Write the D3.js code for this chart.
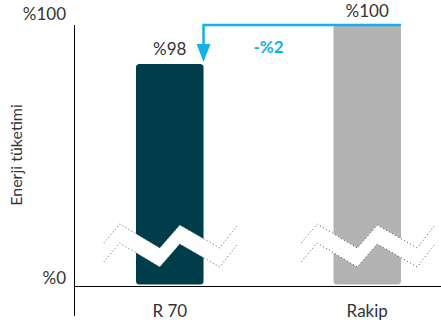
<!DOCTYPE html>
<html><head><meta charset="utf-8">
<script src="https://cdn.jsdelivr.net/npm/d3@7"></script>
<style>
html,body{margin:0;padding:0;background:#fff;}
svg{display:block;font-family:Lato,"Open Sans",sans-serif;}
</style></head>
<body>
<svg id="chart" width="441" height="325"></svg>
<script>
const categories = ["R 70", "Rakip"];
const values = [98, 100];
const valueLabels = ["%98", "%100"];
const tickValues = [0, 100];
const tickLabels = ["%0", "%100"];
const diffLabel = "-%2";
const yTitle = "Enerji tüketimi";
const barColors = ["#003d4b", "#b3b3b3"];
const accent = "#12b1e8";

const W = 441, H = 325;
const svg = d3.select("#chart");

const x = d3.scaleBand().domain(categories).range([74, 463]).paddingInner(0.658).paddingOuter(0.314);
// broken axis: piecewise linear scale
const y = d3.scaleLinear().domain([0, 96, 100]).range([286, 103, 25]);

// bars
svg.selectAll("rect.bar").data(categories).enter().append("rect")
  .attr("class","bar")
  .attr("x", d => x(d))
  .attr("y", (d,i) => y(values[i]))
  .attr("width", x.bandwidth())
  .attr("height", (d,i) => y(0) - 1.5 - y(values[i]))
  .attr("rx", 3.5)
  .attr("fill", (d,i) => barColors[i]);

// break marks
const brk = [[-66,-2],[-50,-21],[-10,3],[10,-20],[50,3],[67,-19]];
const gap = 19, by = 245;
categories.forEach(c => {
  const cx = x(c) + x.bandwidth()/2;
  const up = brk.map(p => [cx + p[0], by + p[1]]);
  const lo = brk.map(p => [cx + p[0], by + p[1] + gap]);
  svg.append("path")
    .attr("d", d3.line()(up.concat(lo.slice().reverse())) + "Z")
    .attr("fill", "#fff");
  [up, lo].forEach(pts => {
    svg.append("path").attr("d", d3.line()(pts))
      .attr("fill","none").attr("stroke","#555").attr("stroke-width",1)
      .attr("stroke-dasharray","1,2.5");
  });
});

// axes lines
svg.append("line").attr("x1",74).attr("x2",W).attr("y1",y(0)+0.5).attr("y2",y(0)+0.5)
  .attr("stroke","#000").attr("stroke-width",1);
svg.append("line").attr("x1",74.5).attr("x2",74.5).attr("y1",y(100)).attr("y2",316)
  .attr("stroke","#000").attr("stroke-width",1);

// y tick labels
const yAxis = d3.axisLeft(y).tickValues(tickValues).tickSize(0).tickPadding(0)
  .tickFormat((d,i) => tickLabels[i]);
const ga = svg.append("g").attr("transform","translate(66,0)").call(yAxis);
ga.select(".domain").remove();
ga.selectAll("text").attr("font-size",17).attr("fill","#333")
  .attr("font-family","Lato,sans-serif")
  .attr("dy", (d) => d === 100 ? "-0.3em" : "-0.12em");

// x labels
const xAxis = d3.axisBottom(x).tickSize(0).tickPadding(0);
const gx = svg.append("g").attr("transform",`translate(0,${y(0)})`).call(xAxis);
gx.select(".domain").remove();
gx.selectAll("text").attr("font-size",17).attr("fill","#333")
  .attr("font-family","Lato,sans-serif").attr("dy",0).attr("y",30.5);

// y title
svg.append("text").attr("transform","translate(22,155) rotate(-90)")
  .attr("text-anchor","middle").attr("font-size",16).attr("fill","#333")
  .text(yTitle);

// value labels
svg.selectAll("text.val").data(categories).enter().append("text")
  .attr("class","val")
  .attr("x", d => x(d) + x.bandwidth()/2)
  .attr("y", (d,i) => y(values[i]) - (i===1 ? 8 : 9))
  .attr("text-anchor","middle").attr("font-size",17).attr("fill","#333")
  .text((d,i) => valueLabels[i]);

// difference arrow
const xL = x(categories[0]) + x.bandwidth();
const xR = x(categories[1]) + x.bandwidth();
const yTop = y(values[1]);
const yTip = y(values[0]) - 2;
svg.append("path")
  .attr("d", d3.line()([[xR, yTop], [xL, yTop], [xL, yTip - 14]]))
  .attr("fill","none").attr("stroke",accent).attr("stroke-width",2.5);
svg.append("path")
  .attr("d", d3.line()([[xL-7, yTip-18],[xL+7, yTip-18],[xL, yTip]]) + "Z")
  .attr("fill",accent);
svg.append("text").attr("x",(xL + x(categories[1]))/2 + 0).attr("y",53)
  .attr("text-anchor","middle").attr("font-size",17).attr("font-weight","bold")
  .attr("fill",accent).text(diffLabel);
</script>
</body></html>
